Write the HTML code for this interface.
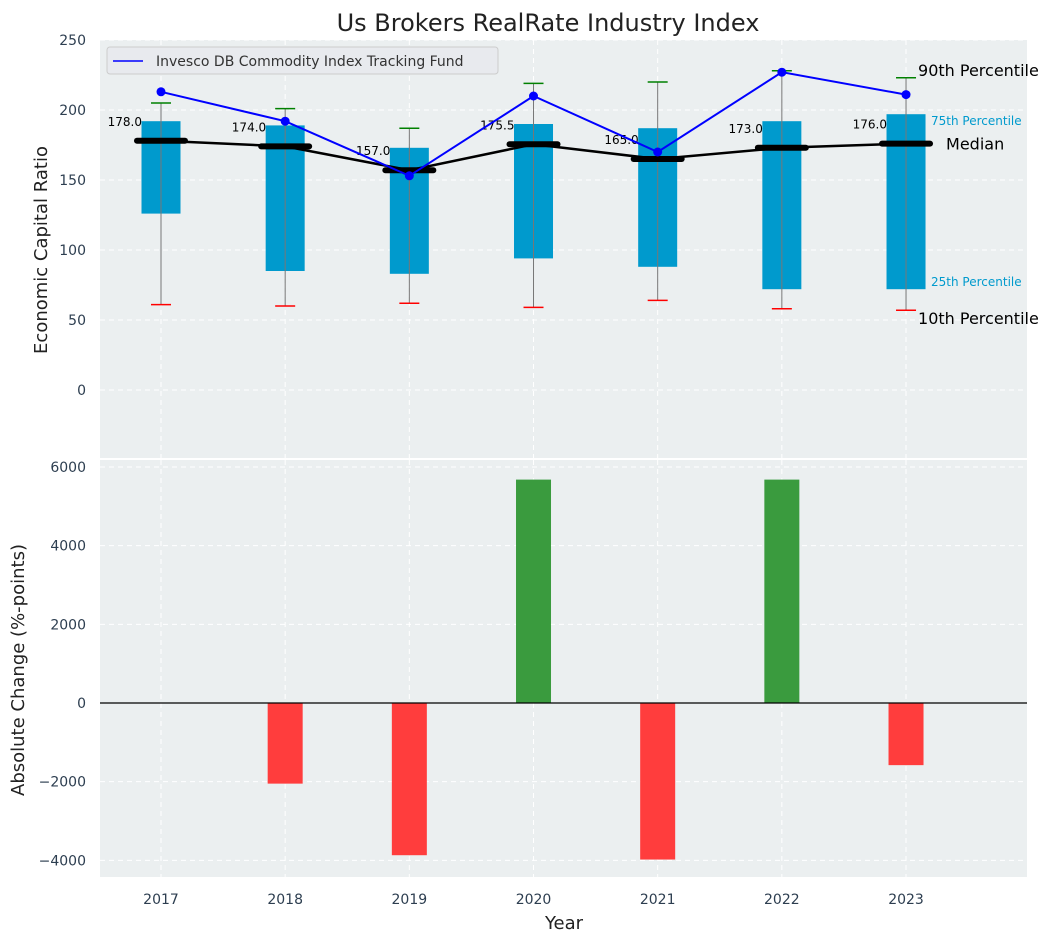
<!DOCTYPE html>
<html><head><meta charset="utf-8"><style>
body{margin:0;background:#fff;}
svg text{font-family:"DejaVu Sans","Liberation Sans",sans-serif;}
</style></head><body>
<svg id="c" width="1053" height="942" xmlns="http://www.w3.org/2000/svg"></svg>
<script>
const years=[2017,2018,2019,2020,2021,2022,2023];
const q1=[126,85,83,94,88,72,72];
const q3=[192,189,173,190,187,192,197];
const med=[178,174,157,175.5,165,173,176];
const p10=[61,60,62,59,64,58,57];
const p90=[205,201,187,219,220,228,223];
const fund=[213,192,153,210,170,227,211];
const change=[0,-2050,-3870,5680,-3980,5680,-1580];
const topTicks=[0,50,100,150,200,250];
const botTicks=[-4000,-2000,0,2000,4000,6000];
const NS='http://www.w3.org/2000/svg';
const svg=document.getElementById('c');
function el(t,a,txt){const e=document.createElementNS(NS,t);for(const k in a)e.setAttribute(k,a[k]);if(txt!==undefined)e.textContent=txt;svg.appendChild(e);return e;}
const X=y=>161+(y-2017)*124.17;
const Yt=v=>390-1.4*v;
const Yb=v=>703-0.03933*v;
const L=100,R=1027;
let p=el('rect',{x:L,y:40,width:R-L,height:418,fill:'#EBEFF0'});

p=el('rect',{x:L,y:460,width:R-L,height:417,fill:'#EBEFF0'});

years.forEach(y=>{
 el('line',{x1:X(y),x2:X(y),y1:40,y2:458,stroke:'#fff','stroke-dasharray':'5,4','stroke-width':1});
 el('line',{x1:X(y),x2:X(y),y1:460,y2:877,stroke:'#fff','stroke-dasharray':'5,4','stroke-width':1});
 let t=el('text',{x:X(y),y:904,'text-anchor':'middle','font-size':14,fill:'#2d3e50'},y);
 
});
topTicks.forEach(v=>{
 el('line',{x1:L,x2:R,y1:Yt(v),y2:Yt(v),stroke:'#fff','stroke-dasharray':'5,4'});
 let t=el('text',{x:86,y:Yt(v)+5,'text-anchor':'end','font-size':14,fill:'#2d3e50'},v);
 
});
botTicks.forEach(v=>{
 el('line',{x1:L,x2:R,y1:Yb(v),y2:Yb(v),stroke:'#fff','stroke-dasharray':'5,4'});
 let t=el('text',{x:86,y:Yb(v)+5,'text-anchor':'end','font-size':14,fill:'#2d3e50'},(v<0?'\u2212':'')+Math.abs(v));
 
});
years.forEach((y,i)=>{
 const x=X(y);
 let b=el('rect',{x:x-19.5,y:Yt(q3[i]),width:39,height:Yt(q1[i])-Yt(q3[i]),fill:'#009ACD'});
 
 el('line',{x1:x,x2:x,y1:Yt(p10[i]),y2:Yt(p90[i]),stroke:'#777','stroke-width':1});
 el('line',{x1:x-10,x2:x+10,y1:Yt(p10[i]),y2:Yt(p10[i]),stroke:'red','stroke-width':1.5});
 el('line',{x1:x-10,x2:x+10,y1:Yt(p90[i]),y2:Yt(p90[i]),stroke:'green','stroke-width':1.5});
});
el('polyline',{points:years.map((y,i)=>X(y)+','+Yt(med[i])).join(' '),fill:'none',stroke:'#000','stroke-width':2.5});
years.forEach((y,i)=>{
 let m=el('line',{x1:X(y)-24,x2:X(y)+24,y1:Yt(med[i]),y2:Yt(med[i]),stroke:'#000','stroke-width':6,'stroke-linecap':'round'});
 
 el('text',{x:X(y)-19,y:Yt(med[i])-15,'text-anchor':'end','font-size':12,fill:'#000'},med[i].toFixed(1));
});
el('polyline',{points:years.map((y,i)=>X(y)+','+Yt(fund[i])).join(' '),fill:'none',stroke:'blue','stroke-width':2});
years.forEach((y,i)=>{let c=el('circle',{cx:X(y),cy:Yt(fund[i]),r:4.5,fill:'blue'});
 });
const last=years.length-1,lx=X(years[last]);
el('text',{x:lx+12,y:Yt(p90[last])-2,'font-size':16,fill:'#000'},'90th Percentile');
el('text',{x:lx+25,y:Yt(q3[last])+11,'font-size':12,fill:'#009ACD'},'75th Percentile');
el('text',{x:lx+40,y:Yt(med[last])+6,'font-size':16,fill:'#000'},'Median');
el('text',{x:lx+25,y:Yt(q1[last])-3,'font-size':12,fill:'#009ACD'},'25th Percentile');
el('text',{x:lx+12,y:Yt(p10[last])+14,'font-size':16,fill:'#000'},'10th Percentile');
let lg=el('rect',{x:107,y:47,width:391,height:27,rx:3,fill:'#E8EAEE',stroke:'#ccc'});

el('line',{x1:113,x2:143,y1:61,y2:61,stroke:'blue','stroke-width':1.6});
el('text',{x:156,y:66,'font-size':14,fill:'#333'},'Invesco DB Commodity Index Tracking Fund');
years.forEach((y,i)=>{
 const v=change[i];if(v===0)return;
 const y0=Yb(Math.max(v,0)),h=Math.abs(Yb(v)-Yb(0));
 let b=el('rect',{x:X(y)-17.5,y:y0,width:35,height:h,fill:v>0?'#3A9B3E':'#FF3D3D'});
 
});
el('line',{x1:L,x2:R,y1:Yb(0),y2:Yb(0),stroke:'#000','stroke-width':1.2});
let t=el('text',{x:548,y:31,'text-anchor':'middle','font-size':24,fill:'#222'},'Us Brokers RealRate Industry Index');

t=el('text',{x:564,y:929,'text-anchor':'middle','font-size':18,fill:'#222'},'Year');

t=el('text',{x:47,y:250,'text-anchor':'middle','font-size':18,fill:'#222',transform:'rotate(-90 47 250)'},'Economic Capital Ratio');

t=el('text',{x:24,y:670,'text-anchor':'middle','font-size':18,fill:'#222',transform:'rotate(-90 24 670)'},'Absolute Change (%-points)');

</script>
</body></html>
